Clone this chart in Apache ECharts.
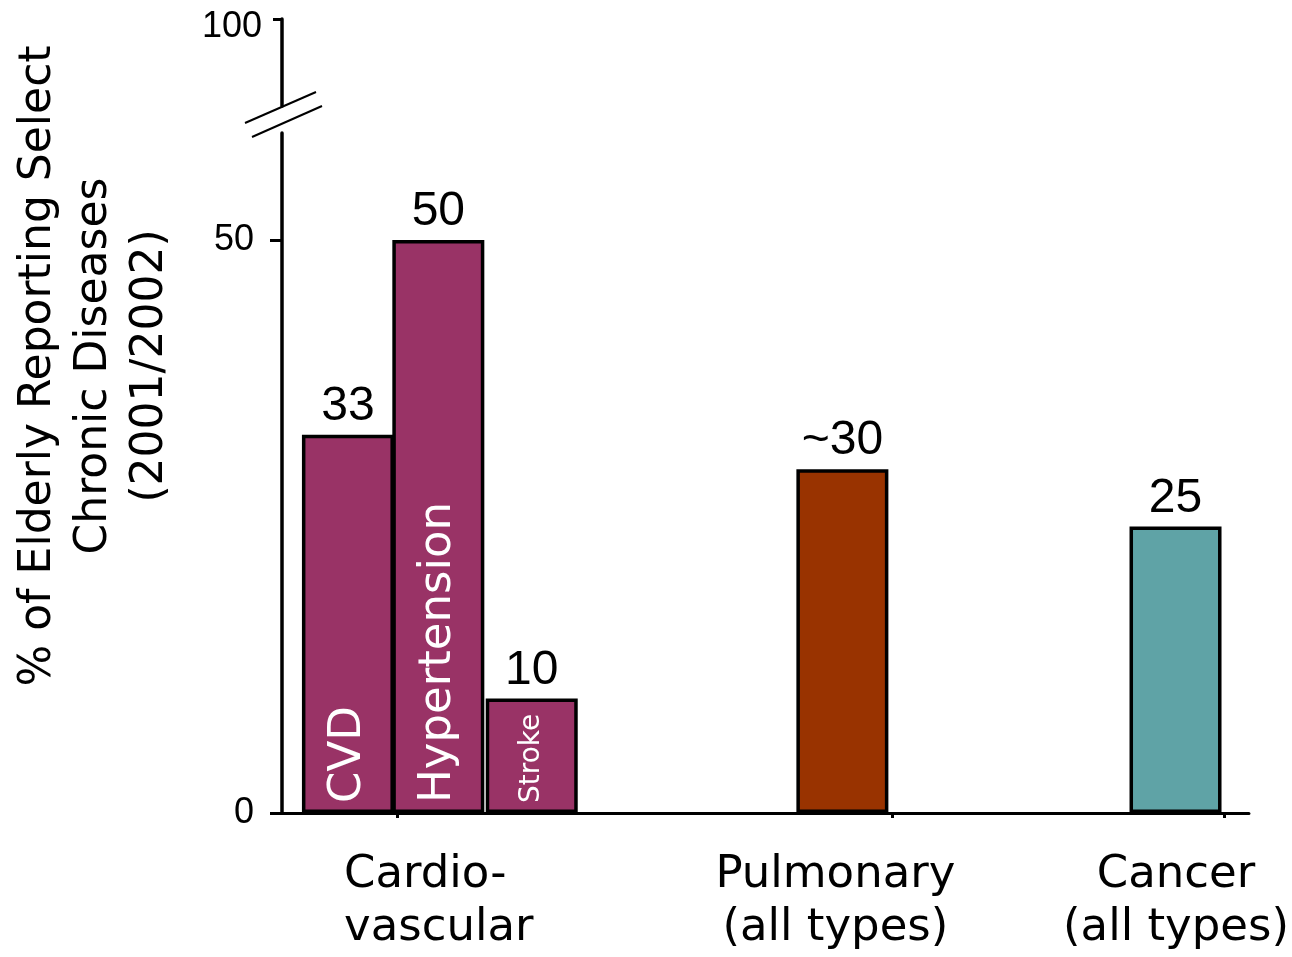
<!DOCTYPE html>
<html>
<head>
<meta charset="utf-8">
<title>Chronic diseases among the elderly</title>
<script src="https://cdn.jsdelivr.net/npm/echarts@6/dist/echarts.min.js"></script>
<style>
  html, body { margin: 0; padding: 0; background: #ffffff; }
  #chart { width: 1292px; height: 957px; }
</style>
</head>
<body>
<div id="chart"></div>
<script>
// ---- data ----
const diseases = ['CVD', 'Hypertension', 'Stroke', 'Pulmonary', 'Cancer'];
const percentReporting = [33, 50, 10, 30, 25];
const valueLabels = ['33', '50', '10', '~30', '25'];
const innerLabels = ['CVD', 'Hypertension', 'Stroke', '', ''];
const groupLabels = ['Cardio-\nvascular', 'Pulmonary\n(all types)', 'Cancer\n(all types)'];
const lowerTicks = [0, 50];
const upperTicks = [100];

// ---- layout (horizontal track units along the x axis) ----
const trackLength = 968;
const barSlots = [66, 156.5, 250, 561, 894.5];
const groupLabelSlots = [157, 554, 895];
const groupLabelAlign = ['l', 'c', 'c'];
const groupTickSlots = [115, 611, 943];
const barColors = ['#993366', '#993366', '#993366', '#993300', '#5fa3a6'];
const innerFontSizes = [45, 45, 28, 0, 0];

const numFont = '"Liberation Sans", Arial, sans-serif';
const textFont = '"DejaVu Sans", sans-serif';

const chart = echarts.init(document.getElementById('chart'), null, { renderer: 'canvas' });

const barData = diseases.map((name, i) => ({
  name: name,
  value: [barSlots[i], percentReporting[i]],
  itemStyle: { color: barColors[i] },
  label: {
    show: true,
    position: 'top',
    distance: 4,
    formatter: valueLabels[i],
    fontFamily: numFont,
    fontSize: 48,
    color: '#000'
  }
}));

const innerData = diseases.map((name, i) => ({
  name: name,
  value: [barSlots[i], percentReporting[i]],
  label: {
    show: innerLabels[i] !== '',
    formatter: innerLabels[i],
    fontSize: innerFontSizes[i] || 12
  }
}));

const groupTextStyle = {
  fontFamily: textFont,
  fontSize: 45,
  lineHeight: 53,
  color: '#000'
};

const option = {
  animation: false,
  backgroundColor: '#ffffff',
  grid: [
    { left: 282, right: 42, top: 133, bottom: 144 },
    { left: 282, right: 42, top: 19, bottom: 851 }
  ],
  xAxis: [
    {
      type: 'value', gridIndex: 0, min: 0, max: trackLength,
      splitLine: { show: false },
      axisLine: { show: true, onZero: false, lineStyle: { color: '#000', width: 3 } },
      axisTick: { show: true, customValues: groupTickSlots, length: 5, lineStyle: { color: '#000', width: 3 } },
      axisLabel: {
        show: true,
        customValues: groupLabelSlots,
        formatter: function (v) {
          const idx = groupLabelSlots.indexOf(v);
          if (idx < 0) return '';
          const key = groupLabelAlign[idx];
          return groupLabels[idx].split('\n').map(s => '{' + key + '|' + s + '}').join('\n');
        },
        margin: 36,
        rich: {
          l: Object.assign({ align: 'left' }, groupTextStyle),
          c: Object.assign({ align: 'center' }, groupTextStyle)
        }
      }
    },
    {
      type: 'value', gridIndex: 1, min: 0, max: trackLength, show: false
    }
  ],
  yAxis: [
    {
      type: 'value', gridIndex: 0, min: 0, max: 59.34,
      splitLine: { show: false },
      axisLine: { show: true, lineStyle: { color: '#000', width: 3.5 } },
      axisTick: { show: true, customValues: lowerTicks, length: 12, lineStyle: { color: '#000', width: 3 } },
      axisLabel: {
        customValues: lowerTicks, margin: 28,
        fontFamily: numFont, fontSize: 36, color: '#000'
      }
    },
    {
      type: 'value', gridIndex: 1, min: 92, max: 100,
      splitLine: { show: false },
      axisLine: { show: true, lineStyle: { color: '#000', width: 3.5 } },
      axisTick: { show: true, customValues: upperTicks, length: 9, lineStyle: { color: '#000', width: 3 } },
      axisLabel: {
        customValues: upperTicks, margin: 20,
        fontFamily: numFont, fontSize: 36, color: '#000',
        verticalAlign: 'top', padding: [-10, 0, 0, 0]
      }
    }
  ],
  series: [
    {
      name: 'Elderly reporting',
      type: 'bar',
      xAxisIndex: 0, yAxisIndex: 0,
      barWidth: 92,
      itemStyle: { borderColor: '#000', borderWidth: 3.5 },
      data: barData,
      z: 2
    },
    {
      // white rotated names drawn inside the bars, reading bottom to top
      name: 'Bar names',
      type: 'bar',
      xAxisIndex: 0, yAxisIndex: 0,
      barWidth: 92,
      barGap: '-100%',
      itemStyle: { color: 'rgba(0,0,0,0)' },
      label: {
        show: true,
        position: 'insideBottom',
        rotate: 90,
        align: 'left',
        verticalAlign: 'middle',
        distance: 10,
        color: '#ffffff',
        fontFamily: textFont
      },
      data: innerData,
      z: 3,
      silent: true
    }
  ],
  graphic: [
    {
      type: 'text',
      x: 95, y: 366,
      rotation: Math.PI / 2,
      style: {
        text: '% of Elderly Reporting Select\nChronic Diseases\n(2001/2002)',
        fontFamily: textFont,
        fontSize: 44,
        lineHeight: 56,
        textAlign: 'center',
        textVerticalAlign: 'middle',
        fill: '#000'
      }
    },
    {
      // axis break marks
      type: 'group',
      children: [
        { type: 'line', shape: { x1: 245, y1: 123, x2: 316, y2: 92 }, style: { stroke: '#000', lineWidth: 2 } },
        { type: 'line', shape: { x1: 252, y1: 137, x2: 322, y2: 106 }, style: { stroke: '#000', lineWidth: 2 } }
      ]
    }
  ]
};

chart.setOption(option);
</script>
</body>
</html>
